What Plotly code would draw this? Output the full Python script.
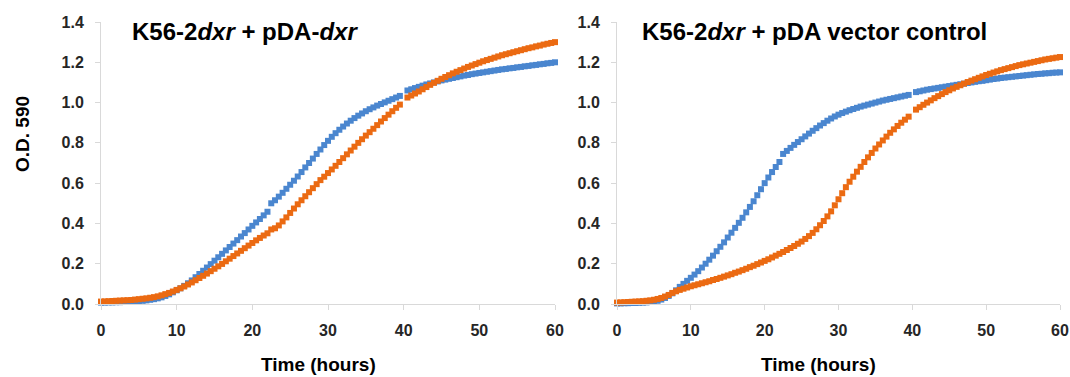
import plotly.graph_objects as go

# Time points (hours), readings every 0.5 h
TIME_HOURS = [i * 0.5 for i in range(121)]

# Left panel: K56-2dxr + pDA-dxr
LEFT_BLUE = [
    .007, .007, .008, .008, .009, .009, .010, .011, .012, .013, .014, .016, .018, .021, .024, .028, .033, .040, .048, .058,
    .068, .078, .090, .103, .117, .133, .149, .165, .181, .198, .215, .232, .249, .266, .283, .300, .317, .335, .352, .370,
    .388, .405, .422, .440, .458, .500, .515, .533, .552, .572, .592, .612, .633, .655, .678, .700, .722, .745, .767, .789,
    .810, .830, .848, .865, .881, .896, .910, .923, .935, .946, .957, .967, .976, .985, .993, 1.001, 1.009, 1.017, 1.025, 1.033,
    None, 1.060, 1.066, 1.072, 1.078, 1.084, 1.090, 1.095, 1.100, 1.105, 1.110, 1.114, 1.118, 1.122, 1.126, 1.130, 1.134, 1.137, 1.141, 1.144,
    1.147, 1.150, 1.153, 1.156, 1.159, 1.162, 1.165, 1.167, 1.170, 1.172, 1.175, 1.177, 1.180, 1.182, 1.185, 1.187, 1.190, 1.192, 1.195, 1.197, 1.200,
]
LEFT_ORANGE = [
    .012, .013, .014, .015, .016, .017, .018, .019, .020, .022, .024, .026, .028, .031, .034, .038, .043, .049, .055, .062,
    .070, .078, .087, .097, .107, .118, .129, .140, .151, .163, .175, .187, .199, .212, .225, .238, .251, .264, .277, .290,
    .303, .316, .328, .340, .351, .370, .376, .390, .410, .430, .452, .474, .495, .515, .535, .555, .575, .595, .615, .632,
    .650, .668, .686, .705, .724, .743, .762, .781, .800, .818, .836, .853, .870, .888, .906, .923, .940, .957, .974, .990,
    None, 1.025, 1.035, 1.045, 1.055, 1.066, 1.077, 1.088, 1.098, 1.108, 1.118, 1.127, 1.136, 1.145, 1.153, 1.161, 1.169, 1.177, 1.184, 1.191,
    1.198, 1.205, 1.211, 1.217, 1.223, 1.229, 1.235, 1.240, 1.245, 1.250, 1.255, 1.260, 1.265, 1.270, 1.274, 1.279, 1.283, 1.288, 1.292, 1.296, 1.300,
]

# Right panel: K56-2dxr + pDA vector control
RIGHT_BLUE = [
    .003, .003, .004, .004, .005, .005, .006, .007, .008, .010, .012, .016, .022, .030, .040, .053, .068, .085, .100, .115,
    .130, .146, .163, .181, .200, .220, .240, .262, .284, .306, .330, .354, .378, .403, .428, .455, .482, .510, .540, .570,
    .600, .628, .655, .680, .705, .745, .760, .775, .790, .804, .818, .832, .846, .860, .873, .886, .898, .910, .921, .931,
    .940, .948, .955, .962, .968, .974, .980, .985, .990, .995, 1.000, 1.005, 1.010, 1.014, 1.018, 1.022, 1.026, 1.030, 1.034, 1.038,
    None, 1.052, 1.056, 1.060, 1.064, 1.067, 1.070, 1.073, 1.076, 1.079, 1.082, 1.085, 1.088, 1.091, 1.094, 1.097, 1.100, 1.103, 1.106, 1.108,
    1.111, 1.114, 1.117, 1.119, 1.122, 1.124, 1.126, 1.128, 1.130, 1.132, 1.134, 1.136, 1.138, 1.140, 1.142, 1.143, 1.145, 1.146, 1.148, 1.149, 1.150,
]
RIGHT_ORANGE = [
    .007, .008, .009, .010, .011, .012, .013, .014, .016, .018, .021, .025, .030, .037, .045, .055, .063, .070, .076, .082,
    .088, .093, .098, .103, .108, .113, .119, .124, .130, .136, .142, .148, .155, .161, .168, .175, .183, .190, .198, .206,
    .214, .222, .231, .240, .249, .258, .268, .278, .288, .299, .310, .323, .337, .353, .371, .391, .412, .435, .460, .490,
    .520, .550, .580, .607, .632, .657, .681, .705, .728, .750, .772, .792, .812, .831, .850, .867, .884, .900, .915, .930,
    None, .965, .977, .989, 1.000, 1.011, 1.022, 1.032, 1.042, 1.052, 1.061, 1.070, 1.078, 1.086, 1.094, 1.102, 1.109, 1.116, 1.123, 1.130,
    1.137, 1.143, 1.149, 1.155, 1.161, 1.166, 1.171, 1.176, 1.181, 1.186, 1.190, 1.194, 1.198, 1.202, 1.206, 1.210, 1.214, 1.217, 1.220, 1.223, 1.226,
]

PANEL_TITLES = ["K56-2<i>dxr</i> + pDA-<i>dxr</i>", "K56-2<i>dxr</i> + pDA vector control"]
Y_TITLE = "O.D. 590"
X_TITLE = "Time (hours)"
X_TICKS = [0, 10, 20, 30, 40, 50, 60]
Y_TICKS = [0.0, 0.2, 0.4, 0.6, 0.8, 1.0, 1.2, 1.4]

BLUE = "#4A86CF"
ORANGE = "#EB6A12"
W, H = 1070, 377
FONT = "Liberation Sans, Arial, sans-serif"

fig = go.Figure()
for xa, ya, blue, orange in [("x", "y", LEFT_BLUE, LEFT_ORANGE), ("x2", "y2", RIGHT_BLUE, RIGHT_ORANGE)]:
    for vals, col in [(blue, BLUE), (orange, ORANGE)]:
        fig.add_trace(go.Scatter(
            x=TIME_HOURS, y=vals, xaxis=xa, yaxis=ya, mode="markers",
            marker=dict(symbol="square", size=6, color=col, line=dict(width=0)),
            cliponaxis=False, showlegend=False, hoverinfo="skip",
        ))

def px_x(p):
    return p / W

def px_y(p):
    return 1 - p / H

axis_common = dict(
    showgrid=False, zeroline=False, showline=True, linecolor="#D9D9D9", linewidth=1,
    ticks="outside", ticklen=5, tickcolor="#D9D9D9", tickwidth=1, automargin=False,
    tickfont=dict(family=FONT, size=16, color="#262626", weight="bold"),
)
xdom = [[px_x(101), px_x(555)], [px_x(617), px_x(1060)]]
ydom = [px_y(304), px_y(22)]

fig.update_layout(
    width=W, height=H, margin=dict(l=0, r=0, t=0, b=0, autoexpand=False),
    paper_bgcolor="white", plot_bgcolor="white",
    xaxis=dict(domain=xdom[0], range=[0, 60], tickvals=X_TICKS, anchor="y", ticklabelstandoff=7, **axis_common),
    yaxis=dict(domain=ydom, range=[0, 1.4], tickvals=Y_TICKS, tickformat=".1f", anchor="x", ticklabelstandoff=8, **axis_common),
    xaxis2=dict(domain=xdom[1], range=[0, 60], tickvals=X_TICKS, anchor="y2", ticklabelstandoff=7, **axis_common),
    yaxis2=dict(domain=ydom, range=[0, 1.4], tickvals=Y_TICKS, tickformat=".1f", anchor="x2", ticklabelstandoff=8, **axis_common),
)

ann = []
title_font = dict(family=FONT, size=24, color="black", weight="bold")
ann.append(dict(text="<b>" + PANEL_TITLES[0] + "</b>", x=px_x(130), y=px_y(31), xref="paper", yref="paper",
                xanchor="left", yanchor="middle", showarrow=False, font=title_font))
ann.append(dict(text="<b>" + PANEL_TITLES[1] + "</b>", x=px_x(640), y=px_y(31), xref="paper", yref="paper",
                xanchor="left", yanchor="middle", showarrow=False, font=title_font))
lab_font = dict(family=FONT, size=19, color="black", weight="bold")
ann.append(dict(text="<b>" + Y_TITLE + "</b>", x=px_x(22), y=px_y(134), xref="paper", yref="paper",
                xanchor="center", yanchor="middle", textangle=-90, showarrow=False, font=lab_font))
ann.append(dict(text="<b>" + X_TITLE + "</b>", x=px_x(318), y=0.002, xref="paper", yref="paper",
                xanchor="center", yanchor="bottom", showarrow=False, borderpad=0, font=lab_font))
ann.append(dict(text="<b>" + X_TITLE + "</b>", x=px_x(818), y=0.002, xref="paper", yref="paper",
                xanchor="center", yanchor="bottom", showarrow=False, borderpad=0, font=lab_font))
fig.update_layout(annotations=ann)

fig.write_html("out.html", config={"displayModeBar": False},
               post_script="document.body.style.margin='0';document.body.style.overflow='hidden';")
